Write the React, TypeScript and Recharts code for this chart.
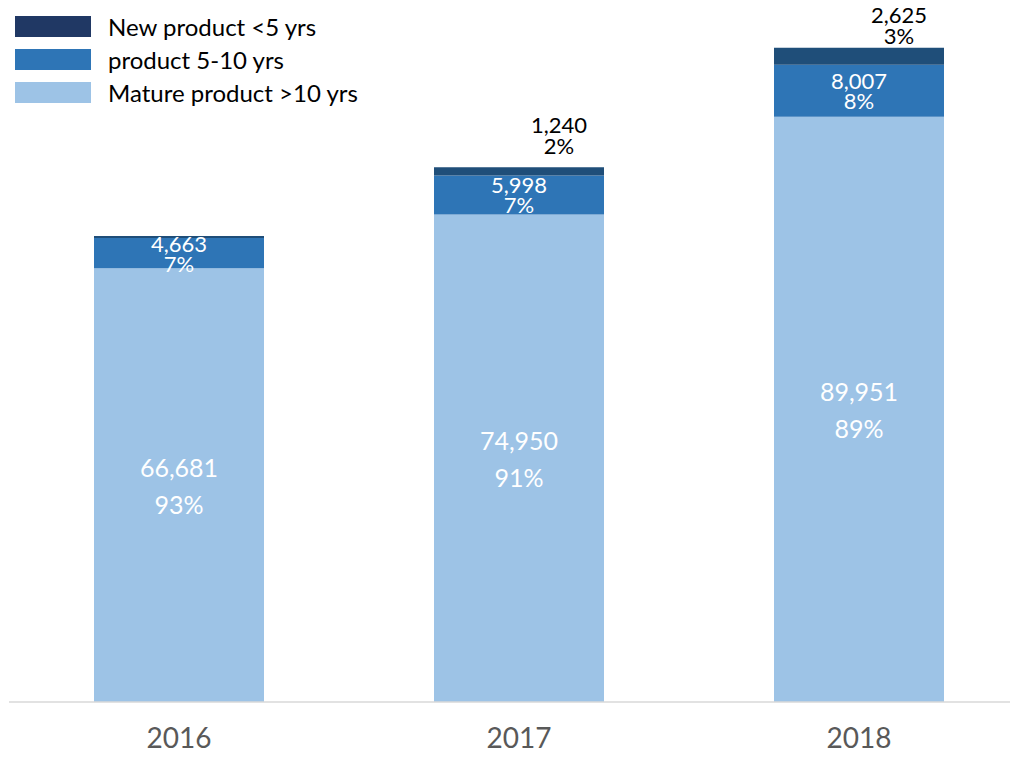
import React from "react";
import { BarChart, Bar, XAxis, YAxis, LabelList } from "recharts";

const years = ["2016", "2017", "2018"];
const matureValues = [66681, 74950, 89951];
const midValues = [4663, 5998, 8007];
const newValues = [300, 1240, 2625];

const seriesNames = ["New product <5 yrs", "product 5-10 yrs", "Mature product >10 yrs"];
const legendColors = ["#203864", "#2E75B6", "#9DC3E6"];

const COLORS = { mature: "#9DC3E6", mid: "#2E75B6", newp: "#1F4E79" };
const FONT = "Lato, 'Open Sans', sans-serif";

const data = years.map((y, i) => {
  const total = matureValues[i] + midValues[i] + newValues[i];
  return {
    year: y,
    mature: matureValues[i],
    mid: midValues[i],
    newp: newValues[i],
    total,
  };
});

const fmt = (v: number) => v.toLocaleString("en-US");
const pct = (v: number, t: number) => Math.round((v / t) * 100) + "%";

const makeInside = (key: "mature" | "mid", fontSize: number, gap: number) => (props: any) => {
  const { x, y, width, height, index } = props;
  const d = data[index];
  const v = d[key];
  const cx = x + width / 2;
  const cy = y + height / 2;
  return (
    <g>
      <text x={cx} y={cy - gap / 2} textAnchor="middle" dominantBaseline="central" fill="#fff" fontSize={fontSize} fontFamily={FONT}>
        {fmt(v)}
      </text>
      <text x={cx} y={cy + gap / 2} textAnchor="middle" dominantBaseline="central" fill="#fff" fontSize={fontSize} fontFamily={FONT}>
        {pct(v, d.total)}
      </text>
    </g>
  );
};

const NewLabel = (props: any) => {
  const { x, y, width, index } = props;
  const d = data[index];
  if (d.newp / d.total < 0.01) return null;
  const cx = x + width / 2 + 40;
  const y1 = Math.max(y - 43, 14);
  return (
    <g>
      <text x={cx} y={y1} textAnchor="middle" dominantBaseline="central" fill="#000" fontSize={22} fontFamily={FONT}>
        {fmt(d.newp)}
      </text>
      <text x={cx} y={y1 + 21} textAnchor="middle" dominantBaseline="central" fill="#000" fontSize={22} fontFamily={FONT}>
        {pct(d.newp, d.total)}
      </text>
    </g>
  );
};

export default function App() {
  return (
    <div style={{ position: "relative", width: 1010, height: 757, marginTop: -8, overflow: "hidden", background: "#fff" }}>
      <BarChart
        width={1030}
        height={757}
        data={data}
        margin={{ top: 45, right: 9, bottom: 0, left: 1 }}
        barSize={170}
      >
        <XAxis
          dataKey="year"
          axisLine={{ stroke: "#D9D9D9", strokeWidth: 1.5 }}
          tickLine={false}
          tickSize={0}
          tickMargin={26}
          height={55}
          tick={{ fill: "#595959", fontSize: 28, fontFamily: FONT }}
        />
        <YAxis hide domain={[0, 101000]} />
        <Bar dataKey="mature" stackId="a" fill={COLORS.mature} isAnimationActive={false}>
          <LabelList content={makeInside("mature", 25, 37)} />
        </Bar>
        <Bar dataKey="mid" stackId="a" fill={COLORS.mid} isAnimationActive={false}>
          <LabelList content={makeInside("mid", 22, 20)} />
        </Bar>
        <Bar dataKey="newp" stackId="a" fill={COLORS.newp} isAnimationActive={false}>
          <LabelList content={NewLabel} />
        </Bar>
      </BarChart>
      <div style={{ position: "absolute", left: 7, top: 17, fontFamily: FONT, fontSize: 24, color: "#000" }}>
        {seriesNames.map((n, i) => (
          <div key={n} style={{ display: "flex", alignItems: "center", height: 33, marginTop: i === 0 ? -7 : 0 }}>
            <div style={{ width: 76, height: 21, background: legendColors[i], marginRight: 17 }} />
            <span style={{ whiteSpace: "nowrap" }}>{n}</span>
          </div>
        ))}
      </div>
    </div>
  );
}
